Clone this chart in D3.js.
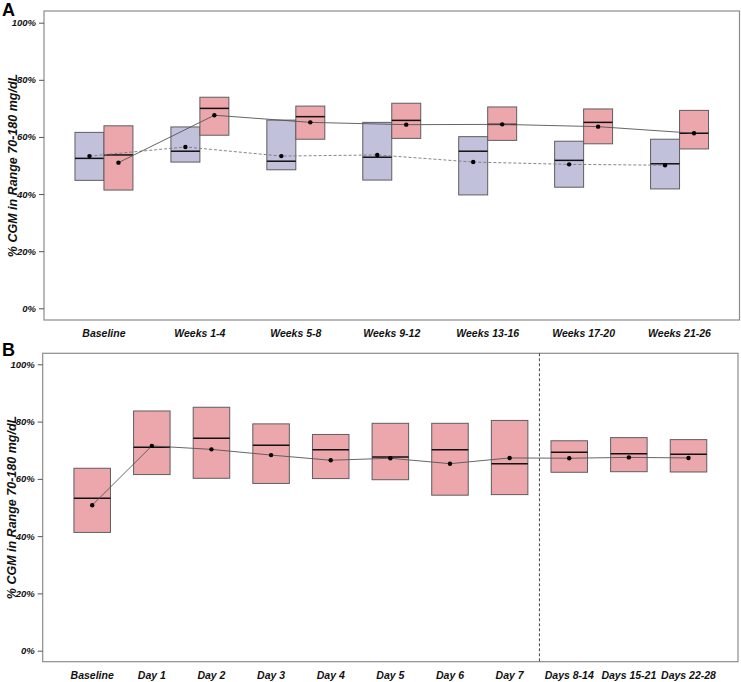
<!DOCTYPE html>
<html><head><meta charset="utf-8">
<script src="https://cdn.jsdelivr.net/npm/d3@7"></script>
<style>
html,body{margin:0;padding:0;background:#fff;}
svg{display:block;font-family:"Liberation Sans",Arial,sans-serif;}
</style></head>
<body>
<svg id="chart" width="741" height="682"></svg>
<script>
// ---------- Data ----------
const catsA = ["Baseline","Weeks 1-4","Weeks 5-8","Weeks 9-12","Weeks 13-16","Weeks 17-20","Weeks 21-26"];
const aControlQ1     = [44.8, 51.2, 48.5, 44.9, 39.7, 42.4, 41.8];
const aControlMedian = [52.5, 55.0, 51.5, 52.9, 55.0, 51.8, 50.6];
const aControlQ3     = [61.6, 63.5, 65.9, 65.1, 60.1, 58.5, 59.2];
const aControlMean   = [53.3, 56.5, 53.3, 53.7, 51.2, 50.4, 50.1];
const aTreatQ1       = [41.4, 60.6, 59.2, 59.5, 58.8, 57.6, 55.8];
const aTreatMedian   = [53.7, 70.0, 67.1, 65.8, 64.4, 65.1, 61.3];
const aTreatQ3       = [63.9, 73.9, 70.8, 71.8, 70.5, 69.8, 69.3];
const aTreatMean     = [51.0, 67.6, 65.1, 64.3, 64.4, 63.6, 61.3];

const catsB = ["Baseline","Day 1","Day 2","Day 3","Day 4","Day 5","Day 6","Day 7","Days 8-14","Days 15-21","Days 22-28"];
const bQ1     = [41.3, 61.5, 60.2, 58.4, 60.1, 59.7, 54.3, 54.5, 62.3, 62.5, 62.4];
const bMedian = [53.2, 71.0, 74.2, 71.7, 70.2, 67.6, 70.2, 65.3, 69.3, 68.8, 68.6];
const bQ3     = [63.7, 83.7, 85.0, 79.2, 75.5, 79.4, 79.4, 80.4, 73.3, 74.4, 73.7];
const bMean   = [50.8, 71.5, 70.3, 68.3, 66.5, 67.2, 65.3, 67.3, 67.2, 67.5, 67.3];

const yTicks = [0, 20, 40, 60, 80, 100];
const yTitle = "% CGM in Range 70-180 mg/dL";

// ---------- Styles ----------
const BLUE = "#c1c1dc", RED = "#eba7ac", BOXSTROKE = "#5e5e5e";
const svg = d3.select("#chart");

function panel(cfg) {
  const g = svg.append("g");
  const x = d3.scalePoint().domain(cfg.cats).range([cfg.left, cfg.right]).padding(cfg.pad);
  const y = d3.scaleLinear().domain([0, 100]).range([cfg.y0, cfg.y100]);
  const step = x.step();

  // frame
  g.append("rect").attr("x", cfg.left).attr("y", cfg.top)
    .attr("width", cfg.right - cfg.left).attr("height", cfg.bottom - cfg.top)
    .attr("fill", "none").attr("stroke", "#8c8c8c").attr("stroke-width", 1.2);

  // y axis
  const ax = g.append("g").attr("transform", `translate(${cfg.left},0)`)
    .call(d3.axisLeft(y).tickValues(yTicks).tickSize(5).tickPadding(3).tickFormat(d => d + "%"));
  ax.select(".domain").remove();
  ax.selectAll(".tick line").attr("stroke", "#555");
  ax.selectAll(".tick text").attr("font-size", 9.5).attr("font-weight", "bold")
    .attr("font-style", "italic").attr("fill", "#111").attr("font-family", "Liberation Sans, Arial, sans-serif");

  // y title
  g.append("text")
    .attr("transform", `translate(${cfg.titleX},${(cfg.top + cfg.bottom) / 2}) rotate(-90)`)
    .attr("text-anchor", "middle").attr("font-size", 12.5).attr("font-style", "italic")
    .attr("font-weight", "bold").attr("fill", "#111").text(yTitle);

  // x labels
  g.selectAll("text.xl").data(cfg.cats).join("text").attr("class", "xl")
    .attr("x", d => x(d)).attr("y", cfg.labelY).attr("text-anchor", "middle")
    .attr("font-size", 10.5).attr("font-weight", "bold").attr("font-style", "italic")
    .attr("fill", "#111").text(d => d);

  return { g, x, y, step };
}

function boxes(p, cats, q1, med, q3, fill, offset, width) {
  const data = cats.map((c, i) => ({ c, q1: q1[i], med: med[i], q3: q3[i] }));
  const bw = width * p.step;
  const gx = d => p.x(d.c) + offset * p.step;
  p.g.selectAll(null).data(data).join("rect")
    .attr("x", d => gx(d) - bw / 2).attr("y", d => p.y(d.q3))
    .attr("width", bw).attr("height", d => p.y(d.q1) - p.y(d.q3))
    .attr("fill", fill).attr("stroke", BOXSTROKE).attr("stroke-width", 1);
  p.g.selectAll(null).data(data).join("line")
    .attr("x1", d => gx(d) - bw / 2).attr("x2", d => gx(d) + bw / 2)
    .attr("y1", d => p.y(d.med)).attr("y2", d => p.y(d.med))
    .attr("stroke", "#111").attr("stroke-width", 1.5);
}

function meanLine(p, cats, mean, offset, dash, color) {
  const pts = cats.map((c, i) => [p.x(c) + offset * p.step, p.y(mean[i])]);
  p.g.append("path").attr("d", d3.line()(pts)).attr("fill", "none")
    .attr("stroke", color).attr("stroke-width", 0.9).attr("stroke-dasharray", dash);
  p.g.selectAll(null).data(pts).join("circle")
    .attr("cx", d => d[0]).attr("cy", d => d[1]).attr("r", 2.2).attr("fill", "#000");
}

// ---------- Panel A ----------
const pA = panel({ cats: catsA, left: 44, right: 739.5, top: 11, bottom: 320, y0: 308.3, y100: 22.7,
  pad: 0.625, titleX: 17, labelY: 337 });
const wA = 29 / 96;
boxes(pA, catsA, aControlQ1, aControlMedian, aControlQ3, BLUE, -wA / 2, wA);
boxes(pA, catsA, aTreatQ1, aTreatMedian, aTreatQ3, RED, wA / 2, wA);
meanLine(pA, catsA, aControlMean, -wA / 2, "3,2", "#777");
meanLine(pA, catsA, aTreatMean, wA / 2, null, "#555");
svg.append("text").attr("x", 2).attr("y", 16).attr("font-size", 18).attr("font-weight", "bold")
  .attr("fill", "#000").text("A");

// ---------- Panel B ----------
const pB = panel({ cats: catsB, left: 42.7, right: 738, top: 353.3, bottom: 661.7, y0: 650.7, y100: 364.3,
  pad: 0.83, titleX: 16, labelY: 679 });
// separator between daily and weekly periods
const sepX = (pB.x("Day 7") + pB.x("Days 8-14")) / 2;
pB.g.append("line").attr("x1", sepX).attr("x2", sepX).attr("y1", 353.3).attr("y2", 661.7)
  .attr("stroke", "#333").attr("stroke-width", 0.9).attr("stroke-dasharray", "3,2");
const wB = 36.5 / 59.6;
boxes(pB, catsB, bQ1, bMedian, bQ3, RED, 0, wB);
meanLine(pB, catsB, bMean, 0, null, "#555");
svg.append("text").attr("x", 2).attr("y", 356).attr("font-size", 18).attr("font-weight", "bold")
  .attr("fill", "#000").text("B");
</script>
</body></html>
